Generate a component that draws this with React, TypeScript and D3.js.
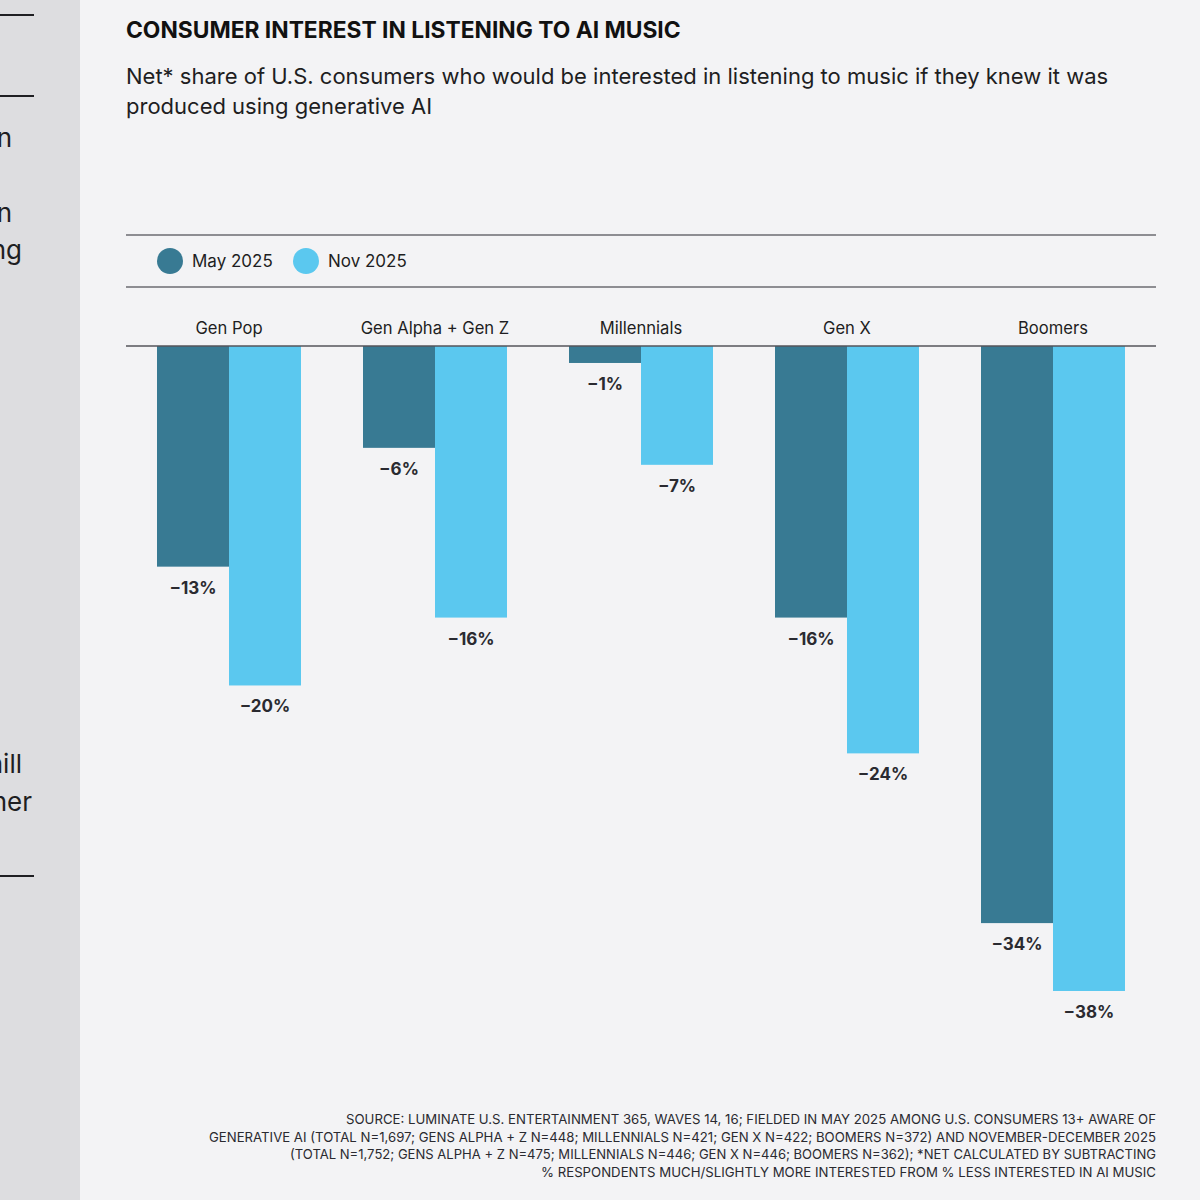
import React from "react";
import * as d3 from "d3";

const categories = ["Gen Pop", "Gen Alpha + Gen Z", "Millennials", "Gen X", "Boomers"];
const seriesNames = ["May 2025", "Nov 2025"];
const may2025 = [-13, -6, -1, -16, -34];
const nov2025 = [-20, -16, -7, -24, -38];
const colors = ["#387a93", "#5bc8ef"];

const footerLines = [
  "SOURCE: LUMINATE U.S. ENTERTAINMENT 365, WAVES 14, 16; FIELDED IN MAY 2025 AMONG U.S. CONSUMERS 13+ AWARE OF",
  "GENERATIVE AI (TOTAL N=1,697; GENS ALPHA + Z N=448; MILLENNIALS N=421; GEN X N=422; BOOMERS N=372) AND NOVEMBER-DECEMBER 2025",
  "(TOTAL N=1,752; GENS ALPHA + Z N=475; MILLENNIALS N=446; GEN X N=446; BOOMERS N=362); *NET CALCULATED BY SUBTRACTING",
  "% RESPONDENTS MUCH/SLIGHTLY MORE INTERESTED FROM % LESS INTERESTED IN AI MUSIC",
];
const footerWidths = [810, 947, 866, 615];

const sideTexts = [
  { t: "n", x: 12, y: 147 },
  { t: "n", x: 12, y: 222 },
  { t: "ng", x: 22, y: 259 },
  { t: "hill", x: 22, y: 773 },
  { t: "her", x: 32, y: 811 },
];

const W = 1200;
const H = 1200;
const left = 126;
const right = 1156;
const zeroY = 346;
const FONT = "Inter, 'Noto Sans', sans-serif";

export default function App() {
  const x0 = d3.scaleBand<string>().domain(categories).range([left, right]).paddingInner(0).paddingOuter(0);
  const barW = 72;
  const x1 = d3
    .scaleBand<string>()
    .domain(seriesNames)
    .range([(x0.bandwidth() - 2 * barW) / 2, (x0.bandwidth() + 2 * barW) / 2]);
  const y = d3.scaleLinear().domain([0, -38]).range([zeroY, zeroY + 645]);
  const series = [may2025, nov2025];
  const fmt = (v: number) => (v < 0 ? "\u2212" + Math.abs(v) : String(v)) + "%";

  return (
    <svg
      width={W}
      height={H}
      viewBox={`0 0 ${W} ${H}`}
      style={{ position: "absolute", left: 0, top: 0, fontFamily: FONT }}
    >
      <rect x={0} y={0} width={W} height={H} fill="#f3f3f5" />
      <rect x={0} y={0} width={80} height={H} fill="#dddde0" />
      {[15, 96, 876].map((ly) => (
        <line key={ly} x1={0} x2={34} y1={ly} y2={ly} stroke="#1e1e22" strokeWidth={2} />
      ))}
      {sideTexts.map((s, i) => (
        <text key={i} x={s.x} y={s.y} textAnchor="end" fontSize={26} fill="#1e1e22">
          {s.t}
        </text>
      ))}

      <text x={left} y={38} fontSize={22.8} fontWeight={700} fill="#111">
        CONSUMER INTEREST IN LISTENING TO AI MUSIC
      </text>
      <text x={left} y={84} fontSize={22} fill="#1e1e22">
        Net* share of U.S. consumers who would be interested in listening to music if they knew it was
      </text>
      <text x={left} y={114} fontSize={22} fill="#1e1e22">
        produced using generative AI
      </text>

      <line x1={left} x2={right} y1={235} y2={235} stroke="#6b6b70" strokeWidth={1.5} />
      <line x1={left} x2={right} y1={287} y2={287} stroke="#6b6b70" strokeWidth={1.5} />
      {seriesNames.map((n, i) => {
        const cx = i === 0 ? 170 : 306;
        return (
          <g key={n}>
            <circle cx={cx} cy={261} r={13} fill={colors[i]} />
            <text x={cx + 22} y={267} fontSize={17} fill="#1e1e22">
              {n}
            </text>
          </g>
        );
      })}

      {categories.map((c) => (
        <text key={c} x={(x0(c) as number) + x0.bandwidth() / 2} y={334} fontSize={16.6} textAnchor="middle" fill="#1e1e22">
          {c}
        </text>
      ))}

      {categories.map((c, ci) => (
        <g key={c} transform={`translate(${x0(c)},0)`}>
          {seriesNames.map((s, si) => {
            const v = series[si][ci];
            const bx = x1(s) as number;
            const by = y(v);
            return (
              <g key={s}>
                <rect x={bx} y={zeroY} width={x1.bandwidth()} height={by - zeroY} fill={colors[si]} />
                <text
                  x={bx + x1.bandwidth() / 2}
                  y={by + 27}
                  textAnchor="middle"
                  fontSize={17}
                  fontWeight={700}
                  fill="#2a2a30"
                >
                  {fmt(v)}
                </text>
              </g>
            );
          })}
        </g>
      ))}
      <line x1={left} x2={right} y1={zeroY} y2={zeroY} stroke="#55555a" strokeWidth={1.5} />

      {footerLines.map((l, i) => (
        <text
          key={i}
          x={right}
          y={1124 + i * 17.5}
          textAnchor="end"
          fontSize={13.5}
          fill="#2a2a30"
          textLength={footerWidths[i]}
          lengthAdjust="spacingAndGlyphs"
        >
          {l}
        </text>
      ))}
    </svg>
  );
}
